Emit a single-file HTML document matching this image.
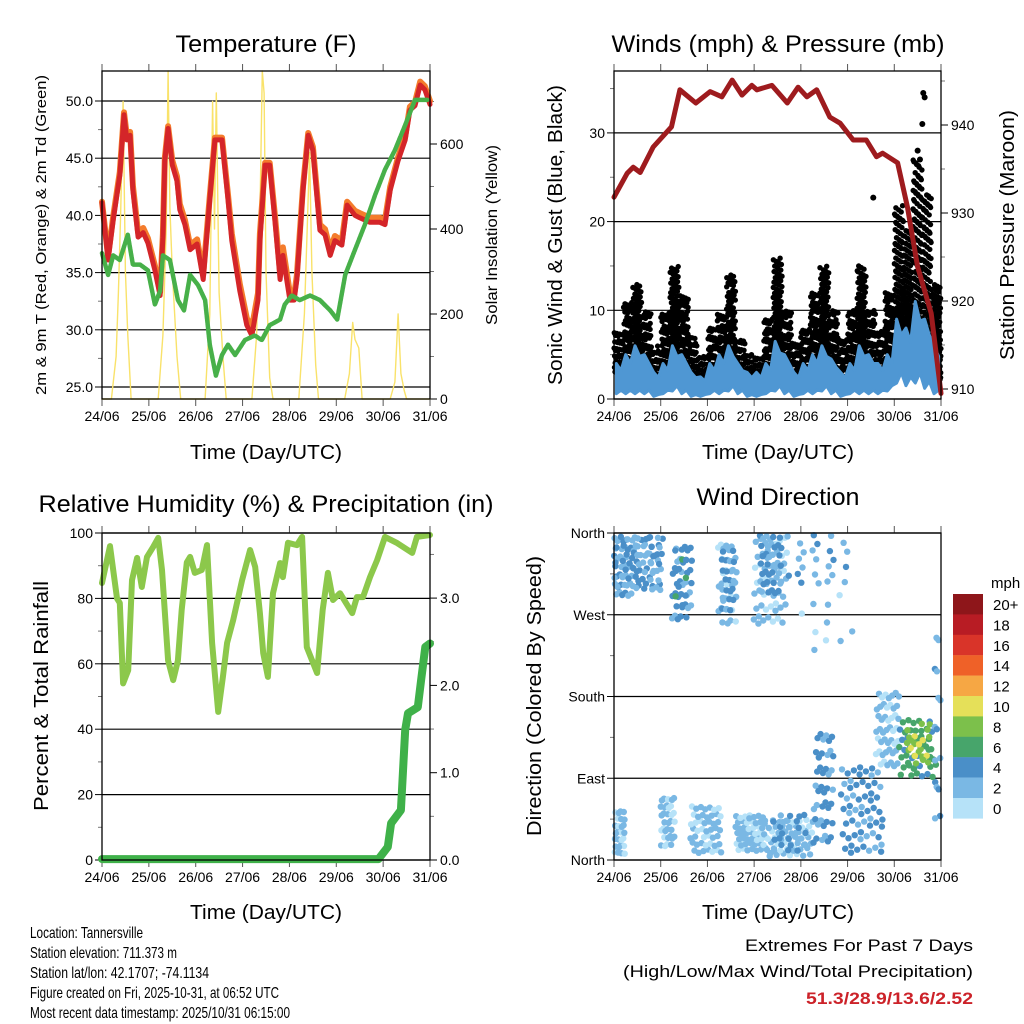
<!DOCTYPE html>
<html><head><meta charset="utf-8"><style>
body{margin:0;background:#fff}
svg{display:block;font-family:"Liberation Sans",sans-serif}
</style></head><body>
<svg id="s" width="1024" height="1024" viewBox="0 0 1024 1024" xmlns="http://www.w3.org/2000/svg"></svg>
<script>
// ---------- DATA ----------
const dayLabels=["24/06","25/06","26/06","27/06","28/06","29/06","30/06","31/06"];
const redT=[0,.13,.24,.38,.47,.53,.6,.66,.77,.88,.98,1.13,1.24,1.3,1.34,1.41,1.5,1.6,1.66,1.77,1.88,2.03,2.16,2.3,2.41,2.56,2.69,2.77,2.94,3.09,3.2,3.33,3.37,3.48,3.58,3.69,3.8,3.86,4.01,4.1,4.16,4.29,4.4,4.5,4.65,4.76,4.87,4.97,5.12,5.23,5.4,5.5,5.72,5.93,6.04,6.15,6.32,6.47,6.57,6.68,6.79,6.89,7.0];
const redV=[41.1,36.1,39.6,43.5,48.8,46.6,47,42.2,38.1,38.5,37.6,35.2,33,38.1,44.8,47.6,44.4,43,40.5,39.2,37,37.5,34.4,41.4,46.6,46.6,41.4,37.8,33.4,30.4,29.5,32.6,37.8,44.4,44.4,39.6,34.4,36.5,32.6,32.6,34.4,42.2,47,45.7,38.7,38.3,36.5,37.8,37.4,40.9,40,39.8,39.4,39.4,39.2,42.2,44.8,46.6,49.2,49.6,51.4,51,49.7];
const orangeV=[41.2,36.4,39.9,43.8,49,47,47.3,42.6,38.5,38.9,38,35.6,33.3,38.4,45,47.8,44.8,43.4,41,39.6,37.4,37.9,34.8,41.7,46.8,46.8,41.8,38.4,34,31,30.2,33.2,38.4,44.6,44.6,40,35,37.2,33.2,33,34.8,42.5,47.2,46,39.2,38.8,37,38.2,37.8,41.2,40.4,40.2,39.8,39.8,39.6,42.5,45.1,46.9,49.5,49.9,51.7,51.3,50];
const tdT=[0,.13,.24,.38,.55,.66,.81,.98,1.13,1.24,1.3,1.45,1.62,1.75,1.88,2.05,2.2,2.3,2.43,2.56,2.69,2.84,3.05,3.26,3.41,3.58,3.8,3.9,4.05,4.22,4.44,4.65,4.87,5.02,5.19,5.4,5.61,5.83,6.04,6.25,6.47,6.68,6.96];
const tdV=[36.7,34.8,36.5,36.1,38.3,35.7,35.7,35.2,32.2,33.4,36.5,36.1,32.6,31.7,34.8,33.9,32.6,28.7,26,27.8,28.7,27.8,29.1,29.5,29.1,30.4,30.9,32.2,33,32.6,33,32.6,31.7,30.9,34.8,37,39.2,41.8,44,45.7,47.9,50.1,50.1];
const solT=[0,.2,.3,.35,.4,.45,.5,.55,.62,1.2,1.3,1.37,1.41,1.45,1.5,1.6,1.68,2.2,2.3,2.36,2.4,2.44,2.5,2.58,2.65,3.2,3.3,3.38,3.42,3.46,3.5,3.58,3.65,4.2,4.32,4.38,4.43,4.48,4.56,4.62,5.18,5.28,5.35,5.4,5.48,5.55,6.15,6.25,6.32,6.38,6.45,6.5,7];
const solV=[0,0,100,250,440,700,300,150,0,0,150,400,772,450,300,100,0,0,200,700,400,720,250,100,0,0,150,500,772,720,300,50,0,0,200,400,580,300,80,0,0,60,180,140,120,0,0,40,200,60,20,0,0];
const gustLo=[3,2,2,3,1,2,4,3,2,1,2,3,4,2,1,1,3,4,3,1,2,3,4,2,1,2,3,3,2,3,6,5,6,4,2];
const gustHi=[8,11,13,10,6,10,15,12,7,5,8,10,14,7,5,5,9,16,10,7,8,12,15,10,7,10,15,10,8,12,22,19,27,23,13];
const windLo=[1,1,1,1,.5,1,1.5,1,.5,.5,1,1,1.5,1,.5,.5,1,1.5,1,.5,1,1,1.5,1,.5,1,1,1,1,1.5,3,2.5,3,2,1];
const windHi=[4,5,6,5,3,4,6,5,3,2.5,4,5,6,4,3,3,4,6.5,5,3,4,5,6,4.5,3,4,6,5,4,5,9,8,11,9,6];
const outT=[5.55,6.5,6.55,6.6,6.62,6.65];
const outV=[22.7,28,27,31,34.5,34];
const presT=[0,.28,.41,.56,.84,1.23,1.41,1.75,2.06,2.31,2.53,2.74,2.95,3.06,3.38,3.71,3.94,4.13,4.34,4.62,4.84,5.12,5.4,5.62,5.75,6.07,6.28,6.5,6.79,7.0];
const presV=[931.8,934.5,935.2,934.6,937.5,939.8,944,942.5,943.8,943.2,945.1,943.4,944.5,944,944.5,942.5,944.3,943.2,944,940.9,940.2,938.3,938.3,936.4,936.8,935.7,930.7,923.9,918.6,909.5];
const rhT=[0,.17,.32,.38,.45,.56,.64,.75,.85,.96,1.09,1.2,1.28,1.41,1.52,1.62,1.7,1.81,1.88,1.98,2.13,2.24,2.35,2.48,2.58,2.67,2.8,2.99,3.16,3.27,3.37,3.44,3.54,3.65,3.8,3.86,3.97,4.16,4.27,4.37,4.59,4.71,4.82,4.93,5.08,5.34,5.44,5.57,5.72,5.87,6.04,6.3,6.62,6.72,7.0];
const rhV=[84.7,96,80,78.6,54,58,85.6,92.4,83.5,92.7,95.7,98.5,88.7,61,55,61,76.5,91,92.7,87.8,88.7,96.3,66.4,45.3,56,66.4,73.4,85.6,94.8,89.6,75.5,63.3,56,81.6,90.8,86.5,97,96.3,98.8,65.1,57.2,76.5,87.8,79.5,81.6,75.5,80.4,80.4,86.5,91.7,98.8,96.9,93.9,98.8,99.4];
const prT=[0,5.9,6.1,6.17,6.38,6.47,6.53,6.74,6.81,6.9,7.0];
const prV=[0.01,0.01,0.15,0.42,0.57,1.49,1.68,1.75,2.06,2.44,2.48];
const clT0=[0,0,.45,1.24,1.3,2.23,2.3,2.98,3.1,3.7,0,1.0,1.63,2.6,3.27,3.4,4.27,4.85,5.6,6.1,6.2,6.35,6.85,4.0];
const clT1=[.45,1.05,1.05,1.67,1.6,2.63,2.6,3.7,3.6,5.0,.25,1.3,2.3,3.27,4.27,4.1,4.7,5.75,6.1,6.9,6.8,6.7,7.0,5.1];
const clD0=[290,300,295,262,275,255,270,258,290,300,3,11,5,8,2,5,8,3,96,85,100,110,44,230];
const clD1=[360,360,360,350,345,352,345,360,360,360,55,70,60,50,45,50,140,102,184,154,150,140,272,300];
const clS=[3,4,3,4,5,2,4,2,4,3,2,2,2,2,2,4,4,4,2,6,8,10,3,2];
const clN=[42,42,30,36,10,30,24,54,36,24,27,33,48,54,54,24,42,60,48,42,22,10,14,10];
const cbLabels=["20+","18","16","14","12","10","8","6","4","2","0"];
const cbColors=["#8e161a","#b81c24","#d93429","#ef6128","#f6a744","#e5e059","#7cc04b","#47a56b","#4a8fc8","#7ab8e4","#b6e2f8"];
// ---------- RENDER ----------
const NS="http://www.w3.org/2000/svg", S=document.getElementById('s');
function mk(tag,attrs,parent){const e=document.createElementNS(NS,tag);for(const k in attrs)e.setAttribute(k,attrs[k]);(parent||S).appendChild(e);return e;}
function txt(str,x,y,size,anchor,parent,extra){const t=mk('text',Object.assign({x:x,y:y,'font-size':size,'text-anchor':anchor||'start',fill:'#000'},extra||{}),parent);t.textContent=str;return t;}
function panel(name,x0,x1,y0,y1){
  const g=mk('g',{});
  
  
  return {g,x0,x1,y0,y1,x:d=>x0+d*(x1-x0)/7};
}
function frame(p,leftTicks,lfy,lfmt,rightTicks,rfy,rfmt,gridOnLeft,minorL,minorR){
  const g=p.g;
  leftTicks.forEach(v=>{const y=lfy(v);
    if(gridOnLeft){const l=mk('line',{x1:p.x0,x2:p.x1,y1:y,y2:y,stroke:'#000','stroke-width':1.2},g);}
    mk('line',{x1:p.x0-7,x2:p.x0,y1:y,y2:y,stroke:'#000','stroke-width':1},g);
    const t=txt(lfmt(v),p.x0-9,y+5,14,'end',g);
  });
  (minorL||[]).forEach(v=>{const y=lfy(v);mk('line',{x1:p.x0-4,x2:p.x0,y1:y,y2:y,stroke:'#777','stroke-width':1},g);});
  rightTicks.forEach(v=>{const y=rfy(v);
    mk('line',{x1:p.x1,x2:p.x1+7,y1:y,y2:y,stroke:'#000','stroke-width':1},g);
    const t=txt(rfmt(v),p.x1+10,y+5,14,'start',g);
  });
  (minorR||[]).forEach(v=>{const y=rfy(v);mk('line',{x1:p.x1,x2:p.x1+4,y1:y,y2:y,stroke:'#777','stroke-width':1},g);});
  dayLabels.forEach((l,i)=>{const x=p.x(i);
    mk('line',{x1:x,x2:x,y1:p.y1,y2:p.y1+7,stroke:'#555','stroke-width':1},g);
    mk('line',{x1:x,x2:x,y1:p.y0-7,y2:p.y0,stroke:'#555','stroke-width':1},g);
    const t=txt(l,x,p.y1+22,14,'middle',g);
  });
}
function border(p){const r=mk('rect',{x:p.x0,y:p.y0,width:p.x1-p.x0,height:p.y1-p.y0,fill:'none',stroke:'#000','stroke-width':1.3},p.g);}
function poly(p,T,V,fy,attrs,name){const pts=T.map((t,i)=>p.x(t).toFixed(1)+','+fy(V[i]).toFixed(1)).join(' ');const e=mk('polyline',Object.assign({points:pts,fill:'none','stroke-linejoin':'round','stroke-linecap':'round'},attrs),p.g);return e;}
function title(str,x,y,size,len,rot,name){const a={};if(len){a.textLength=len;a.lengthAdjust='spacingAndGlyphs';}if(rot)a.transform='rotate(-90 '+x+' '+y+')';const t=txt(str,x,y,size,'middle',S,a);return t;}
const R2a=0.7548776662, R2b=0.5698402910;

// Panel 1
const p1=panel('temperature-panel',102,430,71,399);
const tY=v=>387-(v-25)*11.44, sY=v=>399-v*0.425;
frame(p1,[25,30,35,40,45,50],tY,v=>v.toFixed(1),[0,200,400,600],sY,v=>String(v),true,[27.5,32.5,37.5,42.5,47.5],[100,300,500,700]);
poly(p1,solT,solV,sY,{stroke:'#f9e26a','stroke-width':1.4},'solar-insolation-line');
poly(p1,redT,orangeV,tY,{stroke:'#f47c2c','stroke-width':6},'temp-9m-orange-line');
poly(p1,redT,redV,tY,{stroke:'#d42529','stroke-width':5},'temp-2m-red-line');
poly(p1,tdT,tdV,tY,{stroke:'#47b049','stroke-width':4.5,'stroke-dasharray':'3 1'},'dewpoint-green-line');
border(p1);
title('Temperature (F)',266,52,24,181,0,'temperature-title');
title('2m & 9m T (Red, Orange) & 2m Td (Green)',46,235,15,320,true,'temperature-y-title');
title('Solar Insolation (Yellow)',497,235,16,180,true,'solar-y-title');
title('Time (Day/UTC)',266,459,20,152,0,'temperature-x-title');

// Panel 2
const p2=panel('winds-panel',614,941,71,399);
const wY=v=>399-v*8.87, pY=v=>389-(v-910)*8.8;
frame(p2,[0,10,20,30],wY,v=>String(v),[910,920,930,940],pY,v=>String(v),true,[5,15,25,35],[915,925,935,945]);
const bw=7/gustLo.length;
gustLo.forEach((lo,i)=>{const hi=gustHi[i];
  const n=Math.round((hi-lo)*7)+8;
  for(let j=0;j<n;j++){
    const fx=(0.5+j*R2a+i*0.37)%1, fy=(0.5+j*R2b+i*0.21)%1;
    const v=lo+(hi-lo)*Math.pow(fy,1.35);
    const d=mk('circle',{cx:p2.x((i+fx)*bw).toFixed(1),cy:wY(v).toFixed(1),r:2.7,fill:'#000'},p2.g);
    
    
  }
});
outT.forEach((t,i)=>{const d=mk('circle',{cx:p2.x(t),cy:wY(outV[i]),r:3,fill:'#000'},p2.g);
  
  });
const bandPts=[];
windHi.forEach((h,i)=>{bandPts.push(p2.x((i+0.25)*bw)+','+wY(h));bandPts.push(p2.x((i+0.75)*bw)+','+wY(h*0.8));});
for(let i=windLo.length-1;i>=0;i--){bandPts.push(p2.x((i+0.75)*bw)+','+wY(windLo[i]));bandPts.push(p2.x((i+0.25)*bw)+','+wY(windLo[i]*0.6));}
const band=mk('polygon',{points:bandPts.join(' '),fill:'#4f97d3',stroke:'#4f97d3','stroke-width':3,'stroke-linejoin':'round'},p2.g);


poly(p2,presT,presV,pY,{stroke:'#9e1b1e','stroke-width':5},'pressure-line');
border(p2);
title('Winds (mph) & Pressure (mb)',778,52,24,333,0,'winds-title');
title('Sonic Wind & Gust (Blue, Black)',562,235,20,300,true,'winds-y-title');
title('Station Pressure (Maroon)',1014,235,20,250,true,'pressure-y-title');
title('Time (Day/UTC)',778,459,20,152,0,'winds-x-title');

// Panel 3
const p3=panel('humidity-panel',102,430,533,860);
const rY=v=>860-v*3.27, qY=v=>860-v*87.3;
frame(p3,[0,20,40,60,80,100],rY,v=>String(v),[0,1,2,3],qY,v=>v.toFixed(1),true,[10,30,50,70,90],[0.5,1.5,2.5,3.5]);
poly(p3,rhT,rhV,rY,{stroke:'#8cc84b','stroke-width':6},'relative-humidity-line');
poly(p3,prT,prV,qY,{stroke:'#3fb149','stroke-width':8},'precipitation-line');
border(p3);
title('Relative Humidity (%) & Precipitation (in)',266,512,24,455,0,'humidity-title');
title('Percent & Total Rainfall',48,696,20,230,true,'humidity-y-title');
title('Time (Day/UTC)',266,919,20,152,0,'humidity-x-title');

// Panel 4
const p4=panel('wind-direction-panel',614,941,533,860);
const dY=v=>860-v*327/360;
frame(p4,[0,90,180,270,360],dY,v=>["North","East","South","West","North"][v/90],[],null,null,true,[45,135,225,315],[]);
clT0.forEach((t0,k)=>{const n=clN[k];
  for(let j=0;j<n;j++){const fx=(0.5+j*R2a+k*0.13)%1, fy=(0.5+j*R2b+k*0.29)%1;
    const t=t0+(clT1[k]-t0)*fx, dd=clD0[k]+(clD1[k]-clD0[k])*fy;
    const sp=Math.max(0,clS[k]+((j%3)-1)*1);
    const col=cbColors[10-Math.min(10,Math.floor(sp/2))];
    const c=mk('circle',{cx:p4.x(t).toFixed(1),cy:dY(dd).toFixed(1),r:3.2,fill:col},p4.g);
    
    
  }});
border(p4);
title('Wind Direction',778,505,24,163,0,'wind-direction-title');
title('Direction (Colored By Speed)',541,696,20,280,true,'wind-direction-y-title');
title('Time (Day/UTC)',778,919,20,152,0,'wind-direction-x-title');
const cb=mk('g',{});


cbColors.forEach((c,i)=>{const r=mk('rect',{x:953,y:594+i*20.4,width:30,height:20.6,fill:c},cb);
  
  
  txt(cbLabels[i],993,594+i*20.4+16,15,'start',cb);});
txt('mph',991,588,15,'start',cb);

const info=["Location: Tannersville","Station elevation: 711.373 m","Station lat/lon: 42.1707; -74.1134","Figure created on Fri, 2025-10-31, at 06:52 UTC","Most recent data timestamp: 2025/10/31 06:15:00"];
const infoW=[113,147,179,249,260];
info.forEach((s,i)=>{const t=txt(s,30,938+i*20,16,'start',S,{textLength:infoW[i],lengthAdjust:'spacingAndGlyphs'});
  
  });
const e1=txt('Extremes For Past 7 Days',973,951,17,'end',S,{textLength:228,lengthAdjust:'spacingAndGlyphs'});


const e2=txt('(High/Low/Max Wind/Total Precipitation)',973,977,17,'end',S,{textLength:350,lengthAdjust:'spacingAndGlyphs'});


const e3=txt('51.3/28.9/13.6/2.52',973,1004,17,'end',S,{textLength:167,lengthAdjust:'spacingAndGlyphs',fill:'#cc2229','font-weight':'bold'});


</script>
</body></html>
